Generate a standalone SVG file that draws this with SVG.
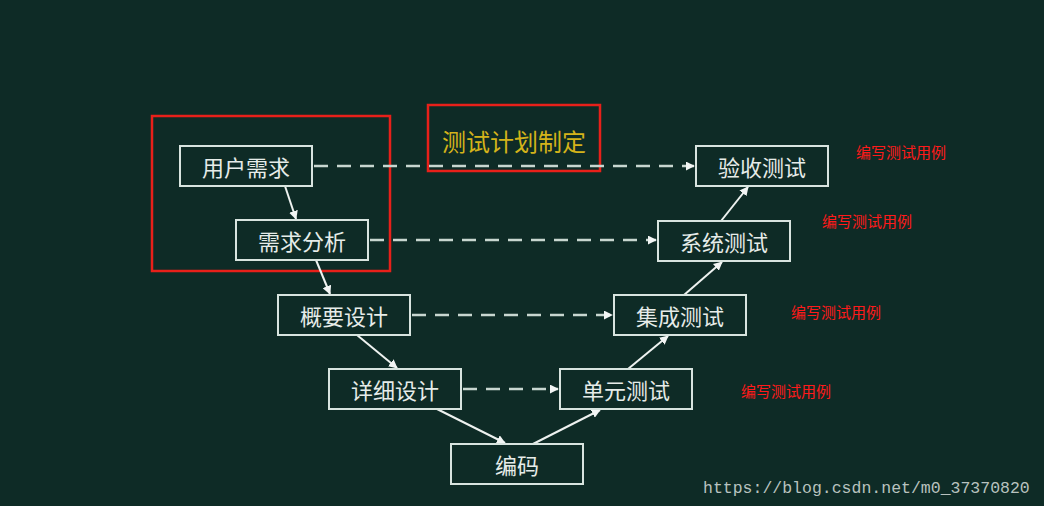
<svg xmlns="http://www.w3.org/2000/svg" width="1044" height="506" viewBox="0 0 1044 506">
<style>
.n rect{fill:none;stroke:#d8e4df;stroke-width:2}
.n text{fill:#e6ece9;font-family:"Noto Sans CJK SC","Noto Sans",sans-serif;font-size:22px;text-anchor:middle;dominant-baseline:central}
.s{stroke:#eef2f0;stroke-width:2;fill:none;marker-end:url(#a)}
.d{stroke:#c8d6d0;stroke-width:2.5;stroke-dasharray:14 9;fill:none;marker-end:url(#a)}
.r{fill:#ff1a1a;font-family:"Noto Sans CJK SC",sans-serif;font-size:15px}
.rb{fill:none;stroke:#e8201a;stroke-width:2.5}
</style>
<defs><marker id="a" viewBox="0 0 10 10" refX="9" refY="5" markerWidth="9" markerHeight="9" markerUnits="userSpaceOnUse" orient="auto"><path d="M0,0L10,5L0,10z" fill="#f2f5f4"/></marker></defs>
<rect width="1044" height="506" fill="#0e2b26"/>
<rect class="rb" x="152" y="116" width="238" height="155"/>
<rect class="rb" x="428" y="105" width="172" height="66"/>
<text x="514" y="140" fill="#d4b31a" font-family="Noto Sans CJK SC,sans-serif" font-size="24" text-anchor="middle" dominant-baseline="central">测试计划制定</text>
<g id="connectors">
<path class="s" d="M285,186L296,219"/>
<path class="s" d="M316,260L330,294"/>
<path class="s" d="M357,335L397,368"/>
<path class="s" d="M437,409L505,443"/>
<path class="s" d="M533,444L600,410"/>
<path class="s" d="M628,369L668,336"/>
<path class="s" d="M684,295L722,262"/>
<path class="s" d="M721,221L748,187"/>
<path class="d" d="M314,166H694"/>
<path class="d" d="M370,240H656"/>
<path class="d" d="M412,315H612"/>
<path class="d" d="M463,389H558"/>
</g>
<g id="n1" class="n"><rect x="180" y="146" width="132" height="40"/><text x="246" y="166">用户需求</text></g>
<g id="n2" class="n"><rect x="236" y="220" width="132" height="40"/><text x="302" y="240">需求分析</text></g>
<g id="n3" class="n"><rect x="278" y="295" width="132" height="40"/><text x="344" y="315">概要设计</text></g>
<g id="n4" class="n"><rect x="329" y="369" width="132" height="40"/><text x="395" y="389">详细设计</text></g>
<g id="n5" class="n"><rect x="451" y="444" width="132" height="40"/><text x="517" y="464">编码</text></g>
<g id="n6" class="n"><rect x="560" y="369" width="132" height="40"/><text x="626" y="389">单元测试</text></g>
<g id="n7" class="n"><rect x="614" y="295" width="132" height="40"/><text x="680" y="315">集成测试</text></g>
<g id="n8" class="n"><rect x="658" y="221" width="132" height="40"/><text x="724" y="241">系统测试</text></g>
<g id="n9" class="n"><rect x="696" y="146" width="132" height="40"/><text x="762" y="166">验收测试</text></g>
<text class="r" x="856" y="158">编写测试用例</text>
<text class="r" x="822" y="227">编写测试用例</text>
<text class="r" x="791" y="318">编写测试用例</text>
<text class="r" x="741" y="397">编写测试用例</text>
<text x="703" y="493" fill="#b8c2bf" font-family="Liberation Mono,monospace" font-size="16.5">https://blog.csdn.net/m0_37370820</text>
</svg>
